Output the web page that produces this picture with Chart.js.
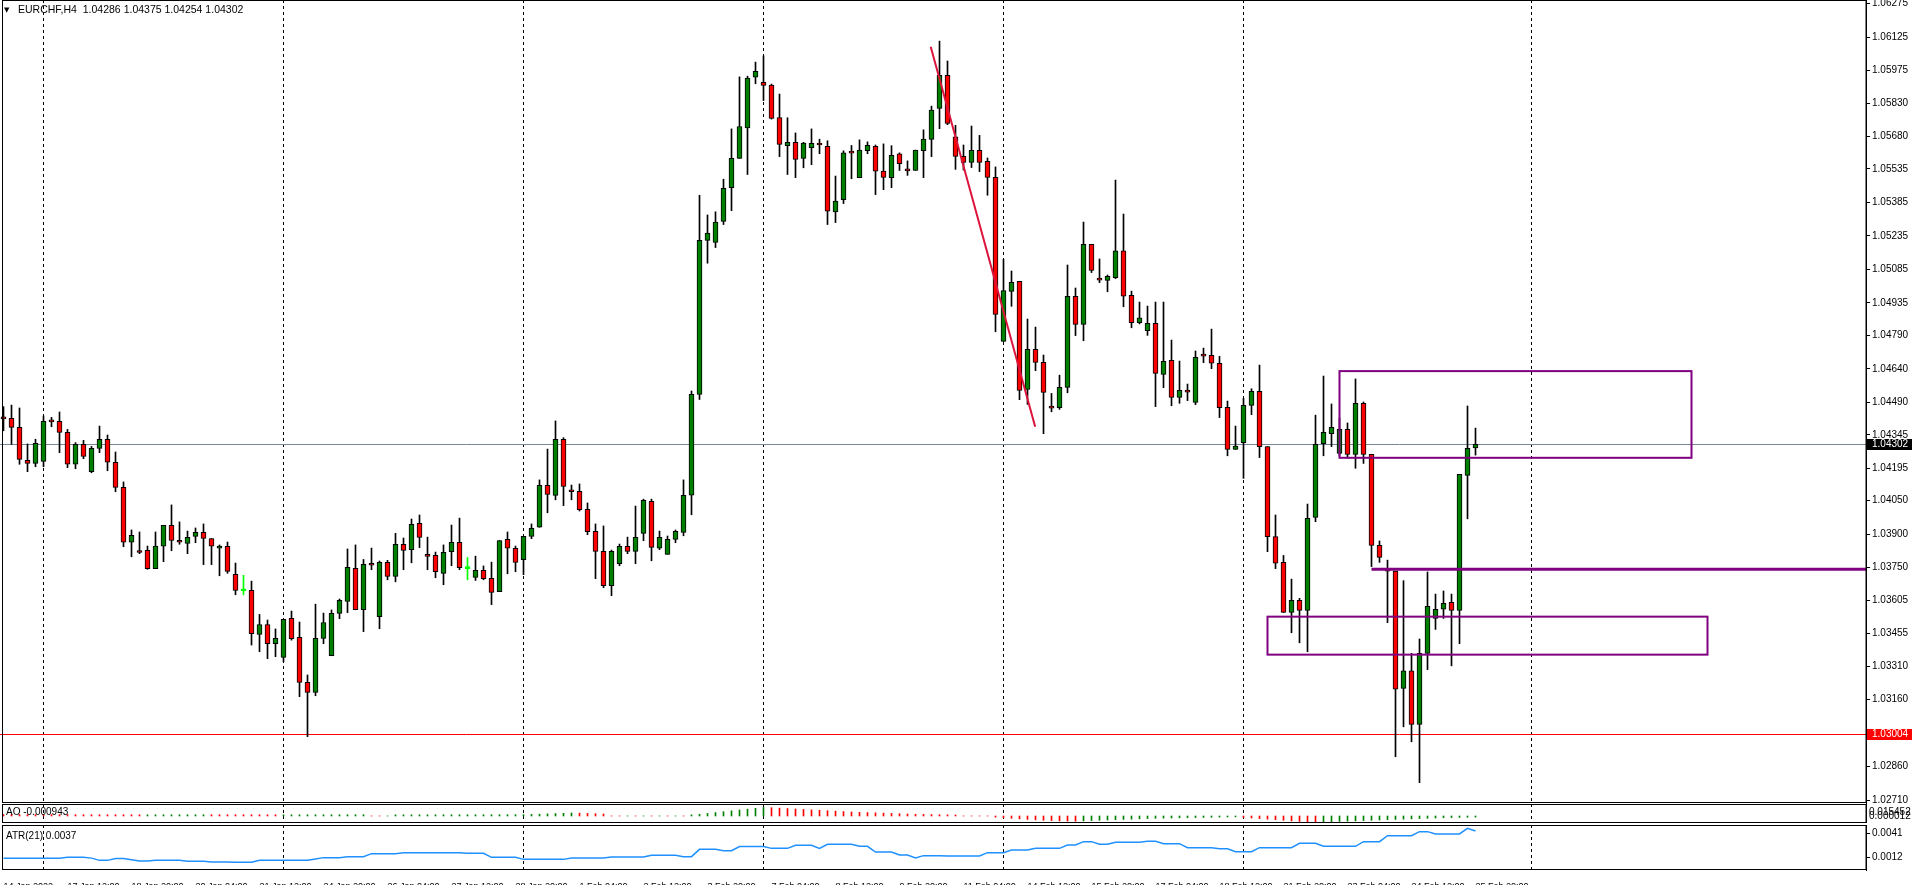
<!DOCTYPE html>
<html>
<head>
<meta charset="UTF-8">
<title>EURCHF,H4</title>
<script src="https://cdn.jsdelivr.net/npm/chart.js"></script>
<style>
  html, body { margin: 0; padding: 0; background: #fff; overflow: hidden; width: 1912px; height: 885px; }
  #wrap { position: relative; width: 1912px; height: 885px; overflow: hidden; }
  #wrap canvas { position: absolute; left: 0; }
  #main { top: 0; }
  #ao { top: 804px; }
  #atr { top: 825px; }
</style>
</head>
<body>
<div id="wrap">
<canvas id="main" width="1912" height="808"></canvas>
<canvas id="ao" width="1912" height="19"></canvas>
<canvas id="atr" width="1912" height="60"></canvas>
</div>
<script>
// EURCHF H4 candles, one entry per bar
const opens = [1.04418,1.04419,1.04378,1.04231,1.04217,1.04226,1.04405,1.04405,1.04356,1.04213,1.04302,1.04180,1.04284,1.04325,1.04222,1.04110,1.03864,1.03820,1.03828,1.03746,1.03846,1.03940,1.03872,1.03859,1.03890,1.03908,1.03881,1.03837,1.03846,1.03720,1.03647,1.03649,1.03452,1.03496,1.03410,1.03349,1.03523,1.03438,1.03237,1.03192,1.03434,1.03356,1.03546,1.03599,1.03747,1.03562,1.03765,1.03531,1.03774,1.03711,1.03855,1.03831,1.03949,1.03807,1.03805,1.03725,1.03822,1.03864,1.03746,1.03707,1.03738,1.03702,1.03643,1.03877,1.03837,1.03786,1.03890,1.03931,1.04119,1.04074,1.04325,1.04092,1.04092,1.04011,1.03913,1.03823,1.03670,1.03768,1.03846,1.03823,1.03904,1.04047,1.03837,1.03810,1.03877,1.03908,1.04075,1.04526,1.05215,1.05206,1.05300,1.05451,1.05582,1.05719,1.05946,1.05922,1.05910,1.05765,1.05639,1.05654,1.05582,1.05630,1.05644,1.05636,1.05342,1.05397,1.05608,1.05496,1.05617,1.05636,1.05525,1.05496,1.05602,1.05528,1.05528,1.05617,1.05667,1.05806,1.05954,1.05679,1.05591,1.05564,1.05618,1.05569,1.05497,1.04763,1.04987,1.05032,1.04548,1.04727,1.04669,1.04466,1.04466,1.04557,1.04965,1.04839,1.05197,1.05039,1.05036,1.05048,1.05168,1.04969,1.04847,1.04811,1.04844,1.04615,1.04678,1.04512,1.04538,1.04490,1.04699,1.04701,1.04665,1.04468,1.04280,1.04310,1.04477,1.04539,1.04292,1.03889,1.03774,1.03550,1.03604,1.03559,1.03975,1.04305,1.04350,1.04262,1.04369,1.04257,1.04486,1.04257,1.03850,1.03746,1.03735,1.03210,1.03289,1.03049,1.03367,1.03523,1.03564,1.03595,1.03559,1.04163,1.04286];
const highs = [1.04471,1.04478,1.04465,1.04304,1.04325,1.04429,1.04423,1.04447,1.04369,1.04310,1.04320,1.04293,1.04384,1.04344,1.04268,1.04134,1.03919,1.03910,1.03847,1.03910,1.03940,1.04031,1.03955,1.03914,1.03928,1.03946,1.03881,1.03852,1.03865,1.03771,1.03716,1.03690,1.03541,1.03516,1.03476,1.03519,1.03556,1.03507,1.03270,1.03587,1.03547,1.03561,1.03610,1.03834,1.03852,1.03787,1.03838,1.03780,1.03783,1.03904,1.03883,1.03968,1.03986,1.03887,1.03820,1.03852,1.03941,1.03972,1.03796,1.03802,1.03758,1.03775,1.03872,1.03910,1.03847,1.03890,1.03946,1.04143,1.04281,1.04407,1.04332,1.04120,1.04125,1.04040,1.03946,1.03937,1.03829,1.03856,1.03887,1.04026,1.04057,1.04057,1.03914,1.03892,1.03919,1.04143,1.04541,1.05417,1.05329,1.05343,1.05489,1.05714,1.05947,1.05950,1.06013,1.06041,1.05915,1.05870,1.05764,1.05696,1.05654,1.05714,1.05668,1.05661,1.05503,1.05616,1.05640,1.05665,1.05656,1.05642,1.05647,1.05639,1.05607,1.05571,1.05619,1.05710,1.05816,1.06107,1.06018,1.05730,1.05642,1.05727,1.05685,1.05584,1.05544,1.05130,1.05078,1.05032,1.04863,1.04827,1.04702,1.04530,1.04612,1.05105,1.05002,1.05297,1.05197,1.05132,1.05060,1.05485,1.05333,1.04988,1.04939,1.04921,1.04939,1.04939,1.04769,1.04675,1.04572,1.04720,1.04733,1.04818,1.04696,1.04496,1.04384,1.04508,1.04551,1.04657,1.04292,1.03986,1.03805,1.03699,1.03613,1.04035,1.04433,1.04608,1.04483,1.04420,1.04398,1.04595,1.04492,1.04257,1.03870,1.03784,1.03735,1.03692,1.03367,1.03431,1.03731,1.03632,1.03646,1.03632,1.04168,1.04474,1.04375];
const lows = [1.04363,1.04302,1.04213,1.04180,1.04202,1.04202,1.04381,1.04265,1.04198,1.04193,1.04238,1.04175,1.04265,1.04184,1.04090,1.03844,1.03799,1.03813,1.03743,1.03746,1.03777,1.03826,1.03855,1.03813,1.03862,1.03764,1.03764,1.03714,1.03725,1.03629,1.03629,1.03404,1.03374,1.03343,1.03352,1.03329,1.03426,1.03173,1.02994,1.03177,1.03410,1.03356,1.03522,1.03549,1.03562,1.03464,1.03741,1.03477,1.03696,1.03687,1.03741,1.03772,1.03840,1.03741,1.03705,1.03674,1.03759,1.03741,1.03696,1.03693,1.03696,1.03585,1.03643,1.03723,1.03732,1.03719,1.03880,1.03931,1.03996,1.04054,1.04028,1.04054,1.04004,1.03898,1.03701,1.03661,1.03625,1.03759,1.03813,1.03768,1.03871,1.03781,1.03831,1.03810,1.03862,1.03893,1.03987,1.04503,1.05113,1.05183,1.05286,1.05348,1.05582,1.05510,1.05916,1.05841,1.05758,1.05590,1.05510,1.05496,1.05540,1.05554,1.05603,1.05286,1.05295,1.05380,1.05491,1.05496,1.05603,1.05420,1.05442,1.05451,1.05528,1.05506,1.05528,1.05496,1.05590,1.05715,1.05733,1.05533,1.05530,1.05541,1.05523,1.05417,1.04806,1.04763,1.04920,1.04502,1.04481,1.04632,1.04350,1.04448,1.04459,1.04533,1.04789,1.04766,1.05071,1.05026,1.04985,1.05044,1.04918,1.04824,1.04841,1.04790,1.04471,1.04556,1.04475,1.04486,1.04498,1.04480,1.04668,1.04641,1.04422,1.04251,1.04280,1.04150,1.04435,1.04243,1.03822,1.03746,1.03550,1.03459,1.03414,1.03374,1.03956,1.04251,1.04292,1.04251,1.04240,1.04195,1.04217,1.03755,1.03774,1.03504,1.02904,1.03038,1.02971,1.02788,1.03294,1.03474,1.03523,1.03311,1.03410,1.03969,1.04254];
const closes = [1.04416,1.04378,1.04235,1.04217,1.04307,1.04405,1.04403,1.04356,1.04213,1.04302,1.04248,1.04284,1.04325,1.04222,1.04110,1.03864,1.03895,1.03818,1.03746,1.03847,1.03940,1.03872,1.03864,1.03886,1.03908,1.03881,1.03846,1.03847,1.03734,1.03649,1.03647,1.03455,1.03496,1.03410,1.03434,1.03519,1.03432,1.03237,1.03192,1.03434,1.03505,1.03546,1.03604,1.03752,1.03562,1.03765,1.03761,1.03774,1.03711,1.03855,1.03828,1.03944,1.03886,1.03801,1.03732,1.03819,1.03864,1.03750,1.03746,1.03738,1.03701,1.03640,1.03872,1.03837,1.03774,1.03890,1.03926,1.04119,1.04078,1.04325,1.04114,1.04090,1.04010,1.03911,1.03823,1.03670,1.03823,1.03846,1.03823,1.03886,1.04052,1.03841,1.03886,1.03877,1.03913,1.04074,1.04526,1.05215,1.05248,1.05297,1.05448,1.05582,1.05725,1.05941,1.05972,1.05909,1.05761,1.05645,1.05654,1.05577,1.05651,1.05650,1.05642,1.05346,1.05391,1.05607,1.05606,1.05619,1.05640,1.05525,1.05497,1.05596,1.05559,1.05526,1.05619,1.05668,1.05798,1.05954,1.05739,1.05591,1.05564,1.05618,1.05564,1.05497,1.04884,1.04991,1.05027,1.04544,1.04727,1.04669,1.04535,1.04464,1.04557,1.04965,1.04839,1.05197,1.05081,1.05037,1.05054,1.05168,1.04965,1.04847,1.04868,1.04844,1.04620,1.04674,1.04512,1.04544,1.04536,1.04692,1.04697,1.04665,1.04466,1.04280,1.04295,1.04477,1.04539,1.04292,1.03889,1.03770,1.03550,1.03604,1.03559,1.03971,1.04302,1.04356,1.04378,1.04369,1.04257,1.04486,1.04257,1.03850,1.03796,1.03735,1.03206,1.03289,1.03049,1.03367,1.03577,1.03564,1.03591,1.03559,1.04168,1.04284,1.04302];

// time axis: one label every 8 bars, starting at bar 0
const timeLabels = ['14 Jan 2022','17 Jan 12:00','18 Jan 20:00','20 Jan 04:00','21 Jan 12:00','24 Jan 20:00','26 Jan 04:00','27 Jan 12:00','28 Jan 20:00','1 Feb 04:00','2 Feb 12:00','3 Feb 20:00','7 Feb 04:00','8 Feb 12:00','9 Feb 20:00','11 Feb 04:00','14 Feb 12:00','15 Feb 20:00','17 Feb 04:00','18 Feb 12:00','21 Feb 20:00','23 Feb 04:00','24 Feb 12:00','25 Feb 20:00'];
const labelBars = [0,8,16,24,32,40,48,56,64,72,80,88,96,104,112,120,128,136,144,152,160,168,176,184];
const gridBars = [5,35,65,95,125,155,191];
const priceTicks = [1.06275,1.06125,1.05975,1.05830,1.05680,1.05535,1.05385,1.05235,1.05085,1.04935,1.04790,1.04640,1.04490,1.04345,1.04195,1.04050,1.03900,1.03750,1.03605,1.03455,1.03310,1.03160,1.02860,1.02710];

// drawn objects
const bidPrice = 1.04302;
const supportPrice = 1.03004;
const zoneBoxes = [[167, 211, 1.04630, 1.04242], [158, 213, 1.03531, 1.03361]];
const zoneLine = [171, 1.03743];
const trendLine = [115.9, 1.06082, 128.96, 1.04381];

// indicators
const aoValues = [0.00100,0.00099,0.00098,0.00097,0.00096,0.00095,0.00094,0.00093,0.00092,0.00091,0.00090,0.00089,0.00088,0.00087,0.00086,0.00085,0.00084,0.00083,
  0.00084,0.00085,0.00086,0.00087,0.00088,0.00089,0.00090,0.00091,
  0.00090,0.00089,0.00088,0.00087,0.00086,0.00085,0.00084,0.00083,0.00082,
  0.00083,0.00084,0.00085,0.00086,0.00087,0.00088,0.00089,0.00090,0.00091,0.00092,0.00093,
  0.00005,0.00004,0.00006,
  0.00080,0.00081,0.00082,0.00083,0.00084,0.00085,0.00086,0.00087,0.00088,0.00089,0.00090,0.00091,0.00092,0.00093,0.00094,0.00095,0.00096,
  0.0011,0.0013,0.0015,0.0017,0.0019,0.0021,
  0.0020,0.0018,0.0016,0.0014,
  0.00005,0.00004,0.00005,0.00004,0.00005,0.00004,0.00005,0.00004,0.00005,0.00004,
  0.0008,0.0012,0.0018,0.0024,0.0030,0.0036,0.0042,0.0048,0.0054,0.0060,
  0.0058,0.0055,0.0052,0.0049,0.0046,0.0043,0.0040,0.0037,0.0034,0.0031,0.0028,0.0026,0.0024,0.0022,0.0020,0.0018,0.0016,0.0014,0.0012,0.0011,0.0010,0.0009,0.0008,0.0007,
  0.00005,0.00004,0.00003,0.00002,
  -0.0008,-0.0012,-0.0016,-0.0020,-0.0024,-0.0027,-0.0030,-0.0032,-0.0034,-0.0035,-0.0036,
  -0.0034,-0.0032,-0.0030,-0.0028,-0.0026,-0.0024,-0.0022,-0.0020,-0.0018,-0.0016,-0.0015,-0.0014,-0.0013,-0.0012,-0.0011,-0.0010,-0.0009,-0.0008,-0.0007,-0.0006,
  -0.0010,-0.0014,-0.0018,-0.0022,-0.0026,-0.0030,-0.0034,-0.0038,-0.0041,-0.0044,
  -0.0042,-0.0040,-0.0038,-0.0036,-0.0034,-0.0032,-0.0030,-0.0028,-0.0026,-0.0024,-0.0022,-0.0020,-0.0018,-0.0016,-0.0014,-0.0012,-0.0011,-0.0010,-0.0009,-0.0008];
const aoScaleLabels = ['0.015452', '0.000012'];
const atrValues = [0.00108,0.00108,0.00108,0.00108,0.00108,0.00108,0.00108,0.00108,0.00120,0.00120,0.00120,0.00110,0.00083,0.00083,0.00104,0.00104,0.00090,0.00075,0.00075,0.00083,0.00083,0.00083,0.00083,0.00071,0.00071,0.00071,0.00063,0.00063,0.00063,0.00059,0.00059,0.00059,0.00083,0.00083,0.00083,0.00083,0.00083,0.00083,0.00083,0.00100,0.00116,0.00116,0.00116,0.00128,0.00128,0.00128,0.00164,0.00164,0.00164,0.00164,0.00176,0.00176,0.00176,0.00176,0.00176,0.00176,0.00176,0.00176,0.00168,0.00168,0.00168,0.00120,0.00120,0.00120,0.00120,0.00095,0.00095,0.00095,0.00095,0.00095,0.00095,0.00112,0.00112,0.00112,0.00112,0.00112,0.00124,0.00124,0.00124,0.00124,0.00124,0.00144,0.00144,0.00144,0.00144,0.00128,0.00128,0.00216,0.00216,0.00216,0.00200,0.00200,0.00249,0.00249,0.00249,0.00249,0.00228,0.00228,0.00228,0.00265,0.00265,0.00265,0.00228,0.00277,0.00277,0.00277,0.00277,0.00253,0.00253,0.00184,0.00184,0.00184,0.00148,0.00148,0.00112,0.00140,0.00140,0.00140,0.00136,0.00136,0.00136,0.00136,0.00136,0.00176,0.00176,0.00176,0.00208,0.00208,0.00208,0.00228,0.00228,0.00228,0.00228,0.00269,0.00269,0.00309,0.00309,0.00277,0.00277,0.00301,0.00301,0.00301,0.00301,0.00313,0.00313,0.00285,0.00285,0.00285,0.00236,0.00236,0.00236,0.00236,0.00224,0.00224,0.00188,0.00188,0.00188,0.00236,0.00236,0.00236,0.00236,0.00236,0.00289,0.00289,0.00289,0.00253,0.00253,0.00253,0.00253,0.00253,0.00309,0.00309,0.00309,0.00381,0.00381,0.00381,0.00381,0.00430,0.00430,0.00402,0.00402,0.00402,0.00402,0.00470,0.00438];
const atrTicks = [0.0041, 0.0012];

const X_MIN = -0.4375, X_MAX = 232.8125;   // 8 px per bar, first bar centred at x = 3.5
const AXIS_W = 46;
const FONT = '10px "Liberation Sans", Arial, sans-serif';

Chart.defaults.font.family = '"Liberation Sans", Arial, sans-serif';
Chart.defaults.font.size = 10;
Chart.defaults.color = '#000';
Chart.defaults.animation = false;

const idx = closes.map((_, i) => i);
const isDoji = i => opens[i] === closes[i];
const bodyFill = idx.map(i => isDoji(i) ? '#00ff00' : closes[i] > opens[i] ? '#008000' : '#ff0000');
const bodyEdge = idx.map(i => isDoji(i) ? '#00ff00' : '#000000');
const wickColor = idx.map(i => isDoji(i) ? '#00ff00' : '#000000');

function timeGrid() {
  return {
    type: 'linear', min: X_MIN, max: X_MAX, position: 'bottom', offset: false,
    afterBuildTicks: s => { s.ticks = gridBars.map(v => ({ value: v })); },
    afterFit: s => { s.height = 0; s.paddingLeft = 0; s.paddingRight = 0; },
    ticks: { display: false },
    grid: { color: '#000', lineWidth: 1, drawTicks: false, offset: false },
    border: { display: false, dash: [3, 3] }
  };
}
function rightAxis(min, max, ticks, fmt, showTicks) {
  return {
    position: 'right', min, max,
    afterBuildTicks: s => { s.ticks = ticks.map(v => ({ value: v })); },
    afterFit: s => { s.width = AXIS_W; s.paddingTop = 0; s.paddingBottom = 0; },
    ticks: { display: showTicks, callback: fmt, padding: 2, autoSkip: false },
    grid: { drawOnChartArea: false, color: '#000', tickLength: 4, drawTicks: showTicks },
    border: { display: true, color: '#000' }
  };
}
const panelFrame = {
  id: 'panelFrame',
  afterDatasetsDraw(chart) {
    const { ctx, chartArea: a } = chart;
    ctx.save();
    ctx.strokeStyle = '#000';
    ctx.lineWidth = 1;
    ctx.strokeRect(2.5, a.top + 0.5, a.right - 2.5, a.bottom - a.top - 1);
    ctx.restore();
  }
};

// ---------- main price panel ----------
const mainDecor = {
  id: 'mainDecor',
  beforeDatasetsDraw(chart) {
    const { ctx, chartArea: a, scales: { y } } = chart;
    ctx.save();
    ctx.lineWidth = 1;
    [[bidPrice, '#778899'], [supportPrice, '#ff0000']].forEach(([p, c]) => {
      const py = Math.round(y.getPixelForValue(p)) + 0.5;
      ctx.strokeStyle = c;
      ctx.beginPath(); ctx.moveTo(a.left, py); ctx.lineTo(a.right, py); ctx.stroke();
    });
    ctx.restore();
  },
  afterDatasetsDraw(chart) {
    const { ctx, chartArea: a, scales: { x, y } } = chart;
    ctx.save();
    ctx.strokeStyle = '#800080';
    ctx.lineWidth = 2;
    zoneBoxes.forEach(([b0, b1, top, bot]) => {
      const l = x.getPixelForValue(b0), r = x.getPixelForValue(b1);
      const t = y.getPixelForValue(top), b = y.getPixelForValue(bot);
      ctx.strokeRect(l, t, r - l, b - t);
    });
    ctx.lineWidth = 3;
    const zy = y.getPixelForValue(zoneLine[1]);
    ctx.beginPath(); ctx.moveTo(x.getPixelForValue(zoneLine[0]), zy); ctx.lineTo(a.right, zy); ctx.stroke();

    ctx.strokeStyle = '#dc143c';
    ctx.lineWidth = 2;
    ctx.beginPath();
    ctx.moveTo(x.getPixelForValue(trendLine[0]), y.getPixelForValue(trendLine[1]));
    ctx.lineTo(x.getPixelForValue(trendLine[2]), y.getPixelForValue(trendLine[3]));
    ctx.stroke();
    ctx.restore();
  },
  afterDraw(chart) {
    const { ctx, chartArea: a, scales: { y } } = chart;
    ctx.save();
    ctx.font = FONT;
    ctx.textBaseline = 'middle';
    [[bidPrice, '#000000'], [supportPrice, '#ff0000']].forEach(([p, c]) => {
      const py = Math.round(y.getPixelForValue(p));
      ctx.fillStyle = c;
      ctx.fillRect(a.right + 1, py - 5, AXIS_W - 1, 11);
      ctx.fillStyle = '#fff';
      ctx.fillText(p.toFixed(5), a.right + 6, py + 0.5);
    });
    ctx.fillStyle = '#000';
    ctx.font = '7px "DejaVu Sans", sans-serif';
    ctx.fillText('\u25BC', 4, 10);
    ctx.font = '10.5px "Liberation Sans", Arial, sans-serif';
    ctx.fillText('EURCHF,H4  1.04286 1.04375 1.04254 1.04302', 18, 10);
    ctx.restore();
  }
};

new Chart(document.getElementById('main'), {
  data: {
    datasets: [
      { type: 'bar', label: 'wick', data: idx.map(i => ({ x: i, y: [lows[i], highs[i]] })),
        backgroundColor: wickColor, borderWidth: 0, barThickness: 1, grouped: false, order: 2 },
      { type: 'bar', label: 'body', data: idx.map(i => ({ x: i, y: [opens[i], closes[i]] })),
        backgroundColor: bodyFill, borderColor: bodyEdge, borderWidth: 1, borderSkipped: false,
        barThickness: 5, minBarLength: 2, grouped: false, order: 1 }
    ]
  },
  options: {
    responsive: false, devicePixelRatio: 1,
    layout: { padding: { left: 0, right: 0, top: 0, bottom: 5 } },
    plugins: { legend: { display: false }, tooltip: { enabled: false } },
    scales: {
      x: timeGrid(),
      y: rightAxis(1.02697, 1.06291, priceTicks, v => v.toFixed(5), true)
    }
  },
  plugins: [mainDecor, panelFrame]
});

// ---------- Awesome Oscillator panel ----------
const aoColors = aoValues.map((v, i) => i > 0 && v > aoValues[i - 1] ? '#008000' : '#ff0000');
const aoText = {
  id: 'aoText',
  afterDraw(chart) {
    const { ctx, chartArea: a } = chart;
    ctx.save();
    ctx.font = FONT;
    ctx.fillStyle = '#000';
    ctx.textBaseline = 'middle';
    ctx.fillText('AO -0.000943', 6, 8);
    ctx.fillText(aoScaleLabels[0], a.right + 3, 8);
    ctx.fillText(aoScaleLabels[1], a.right + 3, 12);
    ctx.restore();
  }
};
new Chart(document.getElementById('ao'), {
  data: {
    datasets: [
      { type: 'bar', data: idx.map(i => ({ x: i, y: aoValues[i] })), backgroundColor: aoColors,
        borderWidth: 0, barThickness: 1, grouped: false }
    ]
  },
  options: {
    responsive: false, devicePixelRatio: 1,
    layout: { padding: 0 },
    plugins: { legend: { display: false }, tooltip: { enabled: false } },
    scales: {
      x: timeGrid(),
      y: rightAxis(-0.0049, 0.0084, [], v => '', false)
    }
  },
  plugins: [panelFrame, aoText]
});

// ---------- ATR panel with the time axis ----------
const atrText = {
  id: 'atrText',
  afterDraw(chart) {
    const { ctx } = chart;
    ctx.save();
    ctx.font = FONT;
    ctx.fillStyle = '#000';
    ctx.textBaseline = 'middle';
    ctx.fillText('ATR(21) 0.0037', 6, 11);
    ctx.restore();
  }
};
new Chart(document.getElementById('atr'), {
  data: {
    datasets: [
      { type: 'line', data: idx.map(i => ({ x: i, y: atrValues[i] })), borderColor: '#1e90ff',
        borderWidth: 1.5, pointRadius: 0, tension: 0, fill: false }
    ]
  },
  options: {
    responsive: false, devicePixelRatio: 1,
    layout: { padding: 0 },
    plugins: { legend: { display: false }, tooltip: { enabled: false } },
    scales: {
      x: timeGrid(),
      xl: {
        type: 'linear', min: X_MIN, max: X_MAX, position: 'bottom', offset: false,
        afterBuildTicks: s => { s.ticks = labelBars.map(v => ({ value: v })); },
        afterFit: s => { s.height = 15; s.paddingLeft = 0; s.paddingRight = 0; },
        ticks: { callback: (v, i) => timeLabels[i], align: 'start', autoSkip: false, maxRotation: 0, padding: 3,
                 font: { size: 9 } },
        grid: { display: false },
        border: { display: false }
      },
      y: rightAxis(-0.0003345, 0.0051029, atrTicks, v => v.toFixed(4), true)
    }
  },
  plugins: [panelFrame, atrText]
});
</script>
</body>
</html>
